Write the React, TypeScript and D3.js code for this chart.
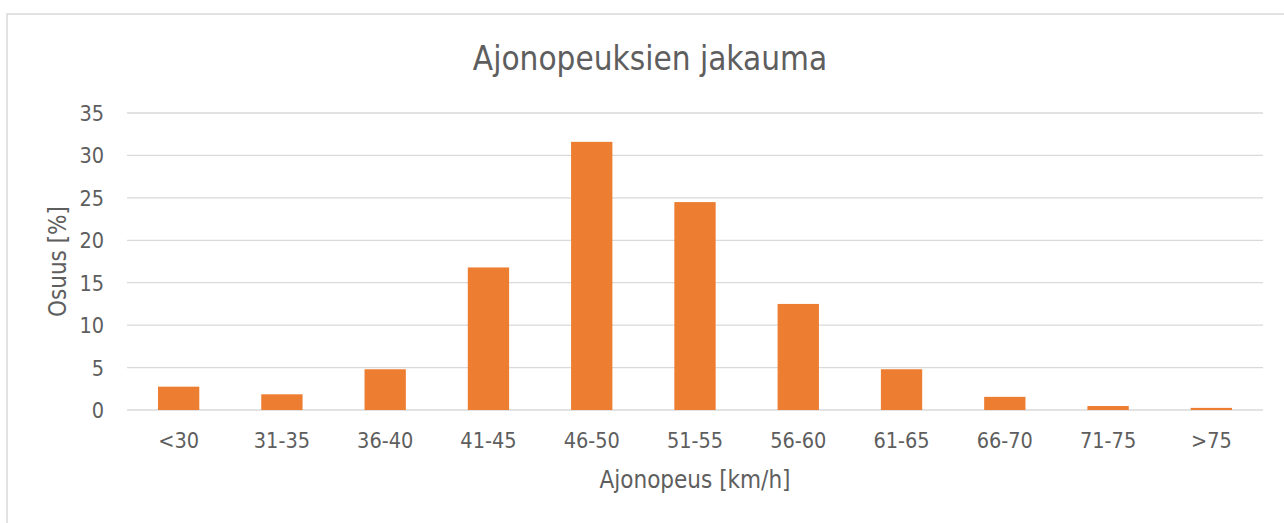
import * as d3 from "d3";
import { useEffect, useRef } from "react";

const categories = ["<30", "31-35", "36-40", "41-45", "46-50", "51-55", "56-60", "61-65", "66-70", "71-75", ">75"];
const shares = [2.75, 1.85, 4.8, 16.8, 31.6, 24.5, 12.5, 4.8, 1.55, 0.47, 0.25];
const yTicks = [0, 5, 10, 15, 20, 25, 30, 35];

const width = 1284,
  height = 523;
const margin = { top: 113, right: 21, bottom: 113, left: 127 };
const font = "'Liberation Sans Narrow', 'DejaVu Sans Condensed', sans-serif";
const textColor = "#5e5e5e";

const App = () => {
  const ref = useRef<SVGSVGElement | null>(null);

  useEffect(() => {
    const svg = d3.select(ref.current);
    svg.selectAll("*").remove();

    const chartWidth = width - margin.left - margin.right;
    const chartHeight = height - margin.top - margin.bottom;

    // chart frame
    svg
      .append("rect")
      .attr("x", 7)
      .attr("y", 14)
      .attr("width", width + 20)
      .attr("height", height + 20)
      .attr("fill", "#fff")
      .attr("stroke", "#d9d9d9")
      .attr("stroke-width", 1.5);

    const x = d3.scaleBand().domain(categories).range([0, chartWidth]).paddingInner(0.6).paddingOuter(0.3);
    const y = d3.scaleLinear().domain([0, 35]).range([chartHeight, 0]);

    const g = svg.append("g").attr("transform", `translate(${margin.left}, ${margin.top})`);

    g.selectAll(".grid")
      .data(yTicks)
      .join("line")
      .attr("x1", 0)
      .attr("x2", chartWidth)
      .attr("y1", (d) => y(d))
      .attr("y2", (d) => y(d))
      .attr("stroke", "#d9d9d9")
      .attr("stroke-width", 1.3);

    g.selectAll(".ytick")
      .data(yTicks)
      .join("text")
      .attr("x", -23)
      .attr("y", (d) => y(d) + 8)
      .attr("text-anchor", "end")
      .attr("font-family", font)
      .attr("font-size", 21.5)
      .attr("fill", textColor)
      .text((d) => d);

    g.selectAll(".bar")
      .data(categories)
      .join("rect")
      .attr("x", (d) => x(d) ?? 0)
      .attr("y", (_, i) => y(shares[i]))
      .attr("width", x.bandwidth())
      .attr("height", (_, i) => chartHeight - y(shares[i]))
      .attr("fill", "#ed7d31");

    g.selectAll(".xtick")
      .data(categories)
      .join("text")
      .attr("x", (d) => (x(d) ?? 0) + x.bandwidth() / 2)
      .attr("y", chartHeight + 38)
      .attr("text-anchor", "middle")
      .attr("font-family", font)
      .attr("font-size", 21.5)
      .attr("fill", textColor)
      .text((d) => d);

    svg
      .append("text")
      .attr("x", 650)
      .attr("y", 70)
      .attr("text-anchor", "middle")
      .attr("font-family", font)
      .attr("font-size", 33)
      .attr("fill", textColor)
      .text("Ajonopeuksien jakauma");

    svg
      .append("text")
      .attr("x", margin.left + chartWidth / 2)
      .attr("y", 488)
      .attr("text-anchor", "middle")
      .attr("font-family", font)
      .attr("font-size", 24)
      .attr("fill", textColor)
      .text("Ajonopeus [km/h]");

    svg
      .append("text")
      .attr("transform", `translate(66, ${margin.top + chartHeight / 2}) rotate(-90)`)
      .attr("text-anchor", "middle")
      .attr("font-family", font)
      .attr("font-size", 24)
      .attr("fill", textColor)
      .text("Osuus [%]");
  }, []);

  return (
    <svg
      ref={ref}
      width={width}
      height={height}
      style={{ position: "absolute", left: 0, top: 0, display: "block" }}
    ></svg>
  );
};

export default App;
